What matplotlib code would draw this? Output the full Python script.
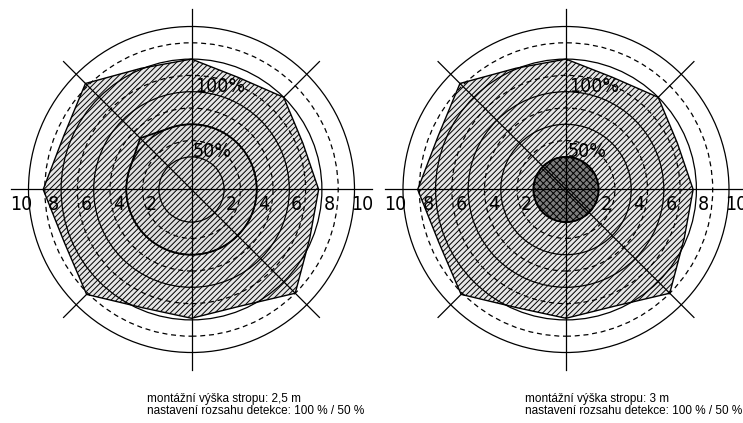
import numpy as np
import matplotlib
matplotlib.use('Agg')
import matplotlib.pyplot as plt
from matplotlib import font_manager
from matplotlib.patches import Polygon, Circle

plt.rcParams['hatch.linewidth'] = 0.7
plt.rcParams['hatch.color'] = 'black'

# detection range (100 %), radius in m for each direction in degrees
angles = [0, 22.5, 45, 67.5, 90, 112.5, 135, 157.5, 180, 202.5, 225, 247.5, 270, 292.5, 315, 337.5]
range_100 = [7.8, 7.4, 8.0, 7.45, 8.0, 8.05, 9.2, 8.5, 9.1, 8.45, 9.1, 7.85, 7.9, 7.75, 9.0, 7.85]

# detection range (50 %)
range_50_left = 4.0          # circle, m
corner_50_left = [135, 4.45]  # direction (deg), radius (m) of the bulge
range_50_right = 2.0

solid_rings = [2, 4, 6, 8, 10]
dashed_rings = [3, 5, 7, 9]
tick_values = [2, 4, 6, 8, 10]

captions = [
    ['montážní výška stropu: 2,5 m', 'nastavení rozsahu detekce: 100 % / 50 %'],
    ['montážní výška stropu: 3 m', 'nastavení rozsahu detekce: 100 % / 50 %'],
]

names = set(f.name for f in font_manager.fontManager.ttflist)
if 'Liberation Sans Narrow' in names:
    narrow = dict(family='Liberation Sans Narrow')
else:
    narrow = dict(family='DejaVu Sans', stretch='condensed')

W, H = 743, 423
scale = 16.3            # px per m
c_left = (191.5, 189.5)  # px from top left
c_right = (566.0, 189.5)

fig = plt.figure(figsize=(W / 100, H / 100), dpi=100)
ax = fig.add_axes([0, 0, 1, 1])
ax.set_xlim(-c_left[0] / scale, (W - c_left[0]) / scale)
ax.set_ylim(-(H - c_left[1]) / scale, c_left[1] / scale)
ax.axis('off')


def polar_xy(ang, rad):
    a = np.radians(np.asarray(ang, dtype=float))
    r = np.asarray(rad, dtype=float)
    return np.column_stack([r * np.cos(a), r * np.sin(a)])


def draw_diagram(cx, inner):
    L = 11.1
    # 45 deg diagonal only visible outside the range area
    d = L / np.sqrt(2)
    ax.plot([cx - d, cx + d], [-d, d], color='black', lw=0.9, zorder=1)

    pts = polar_xy(angles, range_100) + [cx, 0]
    ax.add_patch(Polygon(pts, closed=True, facecolor='#e6e6e6', edgecolor='black',
                         hatch='//////', lw=1.0, zorder=2))

    if inner == 'left':
        r0 = range_50_left
        ca, cr = corner_50_left
        off = np.degrees(np.arccos(r0 / cr))
        arc = np.linspace(ca + off, ca + 360 - off, 200)
        p = polar_xy(arc, np.full(arc.shape, r0))
        p = np.vstack([p, polar_xy([ca], [cr])]) + [cx, 0]
        ax.add_patch(Polygon(p, closed=True, facecolor='#dedede', edgecolor='black',
                             hatch='//////', lw=1.3, zorder=2.5))
    else:
        ax.add_patch(Circle((cx, 0), range_50_right, facecolor='#7c7c7c',
                            edgecolor='black', hatch='xxxxx', lw=1.3, zorder=2.5))

    for r in solid_rings:
        ax.add_patch(Circle((cx, 0), r, fill=False, edgecolor='black', lw=0.9, zorder=3))
    for r in dashed_rings:
        ax.add_patch(Circle((cx, 0), r, fill=False, edgecolor='black', lw=0.9,
                            linestyle=(0, (4, 3)), zorder=3))

    ax.plot([cx - L, cx + L], [0, 0], color='black', lw=0.9, zorder=3)
    ax.plot([cx, cx], [-L, L], color='black', lw=0.9, zorder=3)
    ax.plot([cx - d, cx + d], [d, -d], color='black', lw=0.9, zorder=3)

    for v in tick_values:
        for s in (-1, 1):
            ax.text(cx + s * (v + 0.45), -1.26, str(v), ha='center', va='baseline',
                    fontsize=14, zorder=4, **narrow)

    ax.text(cx + 0.2, 6.0, '100%', ha='left', va='baseline', fontsize=14, zorder=4, **narrow)
    ax.text(cx + 0.1, 2.0, '50%', ha='left', va='baseline', fontsize=14, zorder=4, **narrow)


draw_diagram(0.0, 'left')
draw_diagram((c_right[0] - c_left[0]) / scale, 'right')

for x0, lines in zip([147, 525], captions):
    fig.text(x0 / W, (H - 402.3) / H, lines[0], fontsize=8.5, family='Liberation Sans',
             ha='left', va='baseline')
    fig.text(x0 / W, (H - 413.5) / H, lines[1], fontsize=8.5, family='Liberation Sans',
             ha='left', va='baseline')

fig.savefig('out.png', dpi=100)
